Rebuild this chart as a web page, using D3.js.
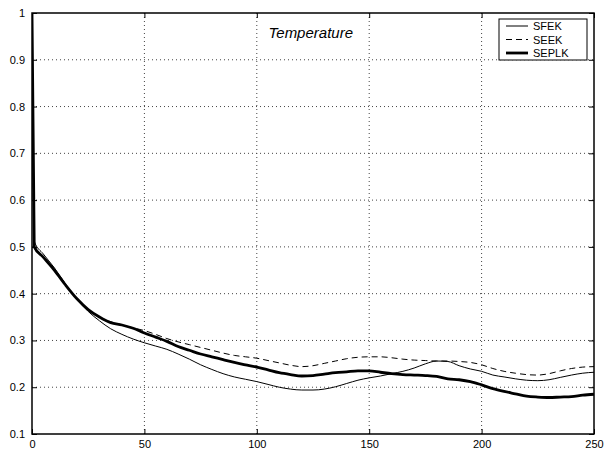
<!DOCTYPE html>
<meta charset="utf-8">
<script src="https://d3js.org/d3.v7.min.js"></script>
<style type="text/css">
body { margin: 0; background: #fff; }
svg { font-family: "Liberation Sans", Arial, sans-serif; }
.grid line { stroke: #444; stroke-width: 1px; stroke-dasharray: 1px 3px; }
.tick text { font-size: 11px; fill: #000; }
</style>
<body></body>
<script>

// x positions (iterations)
var xs = [0, 1, 5, 10, 15, 20, 25, 30, 35, 40, 45, 50, 55, 60, 65, 70, 75, 80, 85, 90, 95, 100,
  105, 110, 115, 120, 125, 130, 135, 140, 145, 150, 155, 160, 165, 170, 175, 180, 185, 190,
  195, 200, 205, 210, 215, 220, 225, 230, 235, 240, 245, 250];

var sfek = [1.0, 0.512, 0.485, 0.455, 0.420, 0.388, 0.362, 0.342, 0.325, 0.313, 0.303, 0.295,
  0.288, 0.281, 0.271, 0.260, 0.248, 0.238, 0.229, 0.222, 0.217, 0.212, 0.206, 0.200, 0.196,
  0.194, 0.194, 0.196, 0.201, 0.208, 0.215, 0.220, 0.224, 0.229, 0.234, 0.241, 0.250, 0.256,
  0.255, 0.246, 0.239, 0.234, 0.226, 0.222, 0.218, 0.215, 0.214, 0.216, 0.221, 0.226, 0.230, 0.232];

var seek = [1.0, 0.500, 0.478, 0.450, 0.418, 0.389, 0.366, 0.350, 0.340, 0.333, 0.327, 0.321,
  0.313, 0.304, 0.297, 0.291, 0.285, 0.279, 0.273, 0.268, 0.265, 0.262, 0.257, 0.252, 0.247,
  0.244, 0.246, 0.251, 0.256, 0.261, 0.264, 0.265, 0.265, 0.263, 0.260, 0.258, 0.257, 0.256,
  0.256, 0.255, 0.253, 0.248, 0.240, 0.234, 0.230, 0.227, 0.226, 0.229, 0.235, 0.240, 0.243, 0.244];

var seplk = [1.0, 0.500, 0.478, 0.450, 0.418, 0.389, 0.366, 0.350, 0.338, 0.333, 0.326, 0.316,
  0.307, 0.298, 0.287, 0.279, 0.271, 0.265, 0.259, 0.253, 0.248, 0.243, 0.237, 0.231, 0.227,
  0.224, 0.225, 0.228, 0.231, 0.233, 0.235, 0.235, 0.232, 0.229, 0.227, 0.226, 0.225, 0.223,
  0.218, 0.216, 0.212, 0.205, 0.197, 0.191, 0.186, 0.181, 0.179, 0.178, 0.179, 0.180, 0.183, 0.185];

var xTicks = [0, 50, 100, 150, 200, 250];
var yTicks = [0.1, 0.2, 0.3, 0.4, 0.5, 0.6, 0.7, 0.8, 0.9, 1];
var seriesNames = ['SFEK', 'SEEK', 'SEPLK'];
var titleText = 'Temperature';

var margin = {top: 13, right: 13, bottom: 17, left: 32};
var width = 607 - margin.left - margin.right,
    height = 451 - margin.top - margin.bottom;

var svg = d3.select('body').append('svg')
  .attr('width', 607)
  .attr('height', 451)
  .append('g')
  .attr('transform', 'translate(' + margin.left + ',' + margin.top + ')');

var xScale = d3.scaleLinear().domain([0, 250]).range([0, width]);
var yScale = d3.scaleLinear().domain([0.1, 1]).range([height, 0]);

// dotted grid
var grid = svg.append('g').attr('class', 'grid');
grid.selectAll('.gx').data(xTicks.slice(1, -1)).enter().append('line')
  .attr('x1', d => xScale(d)).attr('x2', d => xScale(d))
  .attr('y1', 0).attr('y2', height);
grid.selectAll('.gy').data(yTicks.slice(1, -1)).enter().append('line')
  .attr('y1', d => yScale(d)).attr('y2', d => yScale(d))
  .attr('x1', 0).attr('x2', width);

// axes (ticks point inward, like matlab)
var fmt = d => d === 1 ? '1' : d3.format('.1f')(d);
svg.append('g').attr('transform', 'translate(0,' + height + ')')
  .call(d3.axisBottom(xScale).tickValues(xTicks).tickSizeInner(-5).tickSizeOuter(0).tickPadding(6))
  .call(g => g.select('.domain').remove());
svg.append('g')
  .call(d3.axisLeft(yScale).tickValues(yTicks).tickFormat(fmt).tickSizeInner(-5).tickSizeOuter(0).tickPadding(7))
  .call(g => g.select('.domain').remove());
svg.append('g')
  .call(d3.axisTop(xScale).tickValues(xTicks).tickSizeInner(-5).tickSizeOuter(0).tickFormat(''))
  .call(g => g.select('.domain').remove());
svg.append('g').attr('transform', 'translate(' + width + ',0)')
  .call(d3.axisRight(yScale).tickValues(yTicks).tickSizeInner(-5).tickSizeOuter(0).tickFormat(''))
  .call(g => g.select('.domain').remove());

svg.selectAll('.tick line').attr('stroke', '#000');

// clip for curves
svg.append('clipPath').attr('id', 'clip').append('rect')
  .attr('width', width).attr('height', height);

var line = d3.line()
  .x((d, i) => xScale(xs[i]))
  .y(d => yScale(d))
  .curve(d3.curveMonotoneX);

var styles = [
  {w: 1, dash: null},
  {w: 1, dash: '6,4'},
  {w: 2.8, dash: null}
];

[sfek, seek, seplk].forEach(function(vals, k) {
  svg.append('path')
    .datum(vals)
    .attr('clip-path', 'url(#clip)')
    .attr('fill', 'none')
    .attr('stroke', '#000')
    .attr('stroke-width', styles[k].w)
    .attr('stroke-dasharray', styles[k].dash)
    .attr('d', line);
});

// frame
svg.append('rect')
  .attr('width', width).attr('height', height)
  .attr('fill', 'none').attr('stroke', '#000').attr('stroke-width', 1.5);

// title
svg.append('text')
  .attr('x', xScale(124)).attr('y', 25)
  .attr('text-anchor', 'middle')
  .style('font-size', '15px')
  .style('font-style', 'italic')
  .text(titleText);

// legend
var legend = svg.append('g').attr('transform', 'translate(' + (499 - margin.left) + ',' + (19 - margin.top) + ')');
legend.append('rect')
  .attr('width', 88).attr('height', 41)
  .attr('fill', '#fff').attr('stroke', '#000').attr('stroke-width', 1);
seriesNames.forEach(function(name, k) {
  var yy = 7 + k * 13.5;
  legend.append('line')
    .attr('x1', 7).attr('x2', 29).attr('y1', yy).attr('y2', yy)
    .attr('stroke', '#000')
    .attr('stroke-width', styles[k].w)
    .attr('stroke-dasharray', styles[k].dash);
  legend.append('text')
    .attr('x', 34).attr('y', yy + 4)
    .style('font-size', '11px')
    .text(name);
});

</script>
